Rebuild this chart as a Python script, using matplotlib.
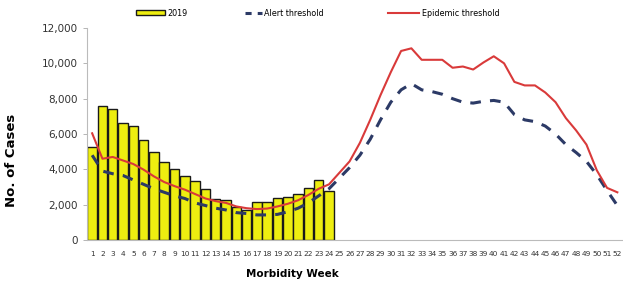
import matplotlib
matplotlib.use("Agg")
import matplotlib.pyplot as plt
from matplotlib.patches import Patch
from matplotlib.lines import Line2D

weeks = list(range(1, 53))
bar_weeks = list(range(1, 25))
cases_2019 = [5250, 7600, 7400, 6620, 6480, 5660, 4980, 4430, 4000, 3640,
              3360, 2870, 2300, 2250, 1850, 1700, 2170, 2170, 2360, 2420,
              2590, 2960, 3400, 2780]
alert = [4800, 3900, 3750, 3650, 3400, 3150, 2900, 2700, 2500, 2350,
         2100, 1950, 1800, 1700, 1550, 1500, 1420, 1420, 1450, 1600,
         1800, 2100, 2500, 2900, 3500, 4100, 4800, 5700, 6800, 7800,
         8500, 8850, 8500, 8400, 8250, 8000, 7800, 7750, 7850, 7900,
         7800, 7100, 6800, 6700, 6450, 6000, 5400, 4950, 4450, 3700,
         2800, 1950]
epidemic = [6040, 4600, 4700, 4500, 4300, 3980, 3600, 3280, 3050, 2850,
            2600, 2350, 2200, 2100, 1900, 1800, 1750, 1780, 1900, 2050,
            2250, 2550, 2900, 3150, 3800, 4450, 5500, 6800, 8200, 9500,
            10700, 10850, 10200, 10200, 10200, 9750, 9820, 9650, 10050, 10400,
            10000, 8950, 8750, 8750, 8350, 7800, 6900, 6200, 5400, 3950,
            2950, 2700]
yticks = [0, 2000, 4000, 6000, 8000, 10000, 12000]
series_names = ["2019", "Alert threshold", "Epidemic threshold"]

bar_color = "#eeee10"
alert_color = "#2c3a66"
epi_color = "#d93a3a"

fig = plt.figure(figsize=(6.23, 2.85), dpi=100)
ax = fig.add_axes([87/623, 45/285, (622.5-87)/623, (240-28)/285])

ax.bar(bar_weeks, cases_2019, width=0.92, color=bar_color, edgecolor="#1a1a1a",
       linewidth=1.0, zorder=2)
ax.plot(weeks, alert, color=alert_color, lw=2.2, dashes=(3.5, 3.0), zorder=3)
ax.plot(weeks, epidemic, color=epi_color, lw=1.5, zorder=4)

ax.set_xlim(0.5, 52.5)
ax.set_ylim(0, 12000)
ax.set_yticks(yticks)
ax.set_yticklabels([f"{v:,}" for v in yticks], fontsize=7.5, color="#333333")
ax.set_xticks(weeks)
ax.set_xticklabels([str(w) for w in weeks], fontsize=5.3, color="#333333")
ax.tick_params(axis="x", length=0, pad=8)
ax.tick_params(axis="y", length=3, color="#aaaaaa", width=0.6)
for s in ["top", "right"]:
    ax.spines[s].set_visible(False)
for s in ["left", "bottom"]:
    ax.spines[s].set_color("#bbbbbb")
    ax.spines[s].set_linewidth(0.8)

ax.set_ylabel("No. of Cases", fontsize=9.5, fontweight="bold")
ax.yaxis.set_label_coords(-0.128, 0.377)
ax.set_xlabel("Morbidity Week", fontsize=7.5, fontweight="bold")
ax.xaxis.set_label_coords(0.383, -0.135)

handles = [
    Patch(facecolor=bar_color, edgecolor="#1a1a1a", linewidth=1.0),
    Line2D([], [], color=alert_color, lw=2.2, dashes=(2.0, 2.0)),
    Line2D([], [], color=epi_color, lw=1.5),
]
hx = [136, 245, 388]
hlen = [3.6, 2.1, 3.9]
legs = []
for h, name, x0, hl in zip(handles, series_names, hx, hlen):
    lg = fig.legend([h], [name], loc="center left", bbox_to_anchor=(x0/623, 272/285),
                    frameon=False, fontsize=5.8, handlelength=hl, handleheight=0.55,
                    handletextpad=0.3, borderpad=0, borderaxespad=0)
    legs.append(lg)

fig.savefig("out.png", dpi=100)
